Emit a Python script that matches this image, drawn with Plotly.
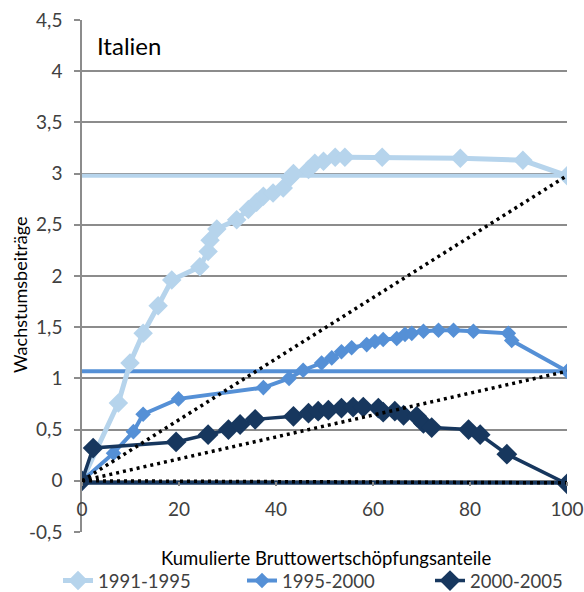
import plotly.graph_objects as go

# ---- data ----
series_names = ["1991-1995", "1995-2000", "2000-2005"]

x_9195 = [0, 7.5, 9.9, 12.6, 15.7, 18.5, 24.3, 26.0, 26.4, 27.8, 31.9, 34.3, 36.0, 37.4,
          39.4, 41.5, 42.9, 43.6, 46.7, 48.0, 49.8, 52.2, 54.2, 61.9, 78.0, 90.9, 100]
y_9195 = [0, 0.76, 1.15, 1.44, 1.71, 1.96, 2.09, 2.24, 2.35, 2.46, 2.55, 2.65, 2.72, 2.78,
          2.81, 2.86, 2.96, 3.0, 3.04, 3.10, 3.12, 3.16, 3.16, 3.16, 3.15, 3.13, 2.98]

x_9500 = [0, 6.5, 10.6, 12.6, 19.9, 37.4, 42.7, 45.6, 49.4, 51.5, 53.5, 55.6, 58.7, 60.4,
          62.1, 64.9, 66.6, 68.0, 70.4, 73.5, 76.6, 80.7, 87.9, 88.6, 100]
y_9500 = [0, 0.27, 0.48, 0.65, 0.80, 0.91, 1.0, 1.08, 1.15, 1.20, 1.26, 1.30, 1.33, 1.36,
          1.38, 1.39, 1.43, 1.44, 1.46, 1.47, 1.47, 1.46, 1.44, 1.37, 1.07]

x_0005 = [0, 2.3, 19.4, 26.0, 30.2, 32.6, 35.7, 43.6, 46.7, 48.7, 50.8, 53.5, 55.9, 58.0,
          61.1, 62.1, 64.5, 66.3, 69.0, 70.4, 72.1, 79.7, 82.1, 87.6, 100]
y_0005 = [0, 0.32, 0.38, 0.45, 0.50, 0.55, 0.60, 0.63, 0.66, 0.68, 0.69, 0.71, 0.72, 0.72,
          0.71, 0.67, 0.68, 0.64, 0.63, 0.56, 0.52, 0.50, 0.45, 0.26, -0.03]

totals = [2.98, 1.07, -0.02]   # overall growth per period (horizontal reference lines)
x_span = [0, 100]

y_tickvals = [-0.5, 0, 0.5, 1, 1.5, 2, 2.5, 3, 3.5, 4, 4.5]
y_ticktext = ["-0,5", "0", "0,5", "1", "1,5", "2", "2,5", "3", "3,5", "4", "4,5"]
x_tickvals = [0, 20, 40, 60, 80, 100]

title_text = "Italien"
x_title = "Kumulierte Bruttowertschöpfungsanteile"
y_title = "Wachstumsbeiträge"

# ---- style ----
colors = ["#B6D4EC", "#5590D6", "#17375E"]
line_w = [5, 4, 3.5]
marker_s = [15, 12, 16]
FONT = "Lato"
legend_ids = ["legend", "legend2", "legend3"]
legend_text_x = [103, 287, 475]   # pixel x where each legend label starts

xs = [x_9195, x_9500, x_0005]
ys = [y_9195, y_9500, y_0005]

fig = go.Figure()

# horizontal total lines
for i in range(3):
    fig.add_trace(go.Scatter(
        x=x_span, y=[totals[i], totals[i]], mode="lines",
        line=dict(color=colors[i], width=4), showlegend=False, hoverinfo="skip"))

# cumulative curves
for i in range(3):
    fig.add_trace(go.Scatter(
        x=xs[i], y=ys[i], mode="lines+markers", name=series_names[i],
        legend=legend_ids[i],
        line=dict(color=colors[i], width=line_w[i]),
        marker=dict(symbol="diamond", size=marker_s[i], color=colors[i])))

# proportional (dotted) lines
for i in range(3):
    fig.add_trace(go.Scatter(
        x=x_span, y=[0, totals[i]], mode="lines",
        line=dict(color="black", width=3.5, dash="3px,4px"),
        showlegend=False, hoverinfo="skip"))

legend_layouts = {}
for i in range(3):
    legend_layouts[legend_ids[i]] = dict(
        orientation="h", xref="container", yref="container",
        x=(legend_text_x[i] - 45) / 584, xanchor="left",
        y=1 - 581 / 592, yanchor="middle",
        font=dict(family=FONT, size=18.5, color="#404040"),
        itemwidth=30, bgcolor="rgba(0,0,0,0)")

fig.update_layout(
    width=584, height=592,
    margin=dict(l=82, r=17, t=20, b=60, autoexpand=False),
    paper_bgcolor="white", plot_bgcolor="white",
    font=dict(family=FONT, size=19, color="#404040"),
    separators=",.",
    showlegend=True,
    **legend_layouts,
    xaxis=dict(range=[0, 100], tickvals=x_tickvals, showgrid=False, zeroline=False,
               anchor="free", position=0.1, showline=False,
               ticks="outside", ticklen=4, tickcolor="#888888", tickwidth=1.5,
               ticklabelstandoff=7, tickfont=dict(family=FONT, size=19, color="#404040")),
    yaxis=dict(range=[-0.5, 4.5], tickvals=y_tickvals, ticktext=y_ticktext,
               showgrid=True, gridcolor="#8C8C8C", gridwidth=1.5, zeroline=False,
               showline=True, linecolor="#8C8C8C", linewidth=1.5,
               ticks="outside", ticklen=6, tickcolor="#8C8C8C", tickwidth=1.5,
               ticklabelstandoff=8, tickfont=dict(family=FONT, size=19, color="#404040")),
    annotations=[
        dict(text=title_text, xref="paper", yref="paper", x=(95 - 82) / 485, y=(532 - 45) / 512,
             xanchor="left", yanchor="middle", showarrow=False,
             font=dict(family=FONT, size=24, color="black")),
        dict(text=x_title, xref="paper", yref="paper", x=(326 - 82) / 485, y=(532 - 558) / 512,
             xanchor="center", yanchor="middle", showarrow=False,
             font=dict(family=FONT, size=18.5, color="black")),
        dict(text=y_title, xref="paper", yref="paper", x=(20 - 82) / 485, y=(532 - 295) / 512,
             xanchor="center", yanchor="middle", showarrow=False, textangle=-90,
             font=dict(family=FONT, size=18, color="black")),
    ],
)

fig.write_html("out.html", config={"displayModeBar": False},
               post_script="document.body.style.margin='0';document.body.style.overflow='hidden';")
